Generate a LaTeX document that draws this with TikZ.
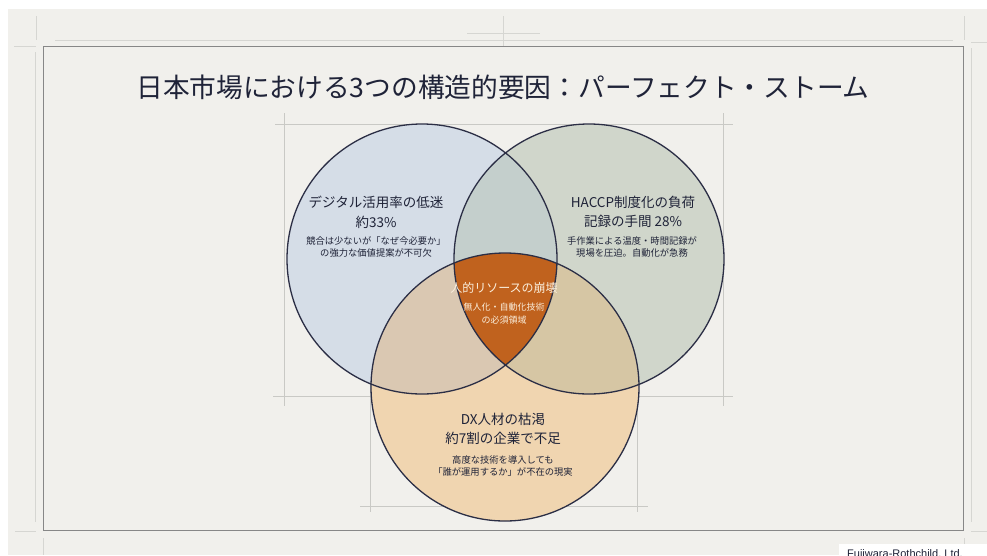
\documentclass[tikz,border=0pt]{standalone}
\usepackage{fontspec}
\setmainfont{Noto Sans CJK JP}
\newfontfamily\latinsans{Liberation Sans}
\definecolor{bgcol}{HTML}{F1F0EC}
\definecolor{guidecol}{HTML}{D6D6D2}
\definecolor{cguidecol}{HTML}{C9C9C5}
\definecolor{framecol}{HTML}{878787}
\definecolor{ringcol}{HTML}{2B2E45}
\definecolor{lcol}{HTML}{D5DDE7}
\definecolor{rcol}{HTML}{D0D6CB}
\definecolor{bcol}{HTML}{F0D5B0}
\definecolor{lrcol}{HTML}{C4CFCC}
\definecolor{lbcol}{HTML}{DAC8B2}
\definecolor{rbcol}{HTML}{D6C6A4}
\definecolor{tcol}{HTML}{C0621E}
\definecolor{txtcol}{HTML}{1F2338}
\definecolor{lighttxt}{HTML}{FAEEDC}
\begin{document}
\begin{tikzpicture}[x=1pt,y=-1pt,
  guide/.style={draw=guidecol, line width=0.9pt},
  cguide/.style={draw=cguidecol, line width=0.7pt},
  ring/.style={circle, draw=ringcol, line width=1.3pt, inner sep=0pt},
  mainlbl/.style={font=\fontsize{13.5}{17}\selectfont, text=txtcol, align=center, inner sep=0pt},
  sublbl/.style={font=\fontsize{9.3}{11.8}\selectfont, text=txtcol, align=center, inner sep=0pt},
]
\useasboundingbox (0,0) rectangle (987,555);
\fill[white] (0,0) rectangle (987,555);
\fill[bgcol] (8,9) rectangle (987,555);

% outer guide lines and crop marks
\draw[guide] (55,40) -- (953,40);
\draw[guide] (35,52) -- (35,522);
\draw[guide] (971,48) -- (971,522);
\draw[guide] (36,16) -- (36,40);
\draw[guide] (14,46) -- (36,46);
\draw[guide] (964,16) -- (964,40);
\draw[guide] (971,42) -- (987,42);
\draw[guide] (15,531) -- (36,531);
\draw[guide] (43,538) -- (43,555);
\draw[guide] (964,538) -- (964,555);
\draw[guide] (971,531) -- (987,531);
\draw[guide] (503,16) -- (503,46);
\draw[guide] (467,33) -- (540,33);

% frame
\draw[framecol, line width=1pt] (43,46) rectangle (963,530);

% title
\node[font=\fontsize{26.7}{30}\selectfont, text=txtcol] (title) at (503,87)
  {日本市場における3つの構造的要因：パーフェクト・ストーム};

% circle guides
\draw[cguide] (275,124) -- (733,124);
\draw[cguide] (273,396) -- (733,396);
\draw[cguide] (284,113) -- (284,406);
\draw[cguide] (723,113) -- (723,406);
\draw[cguide] (370,383) -- (370,512);
\draw[cguide] (637,383) -- (637,512);
\draw[cguide] (360,506) -- (648,506);

% circle fills
\coordinate (cL) at (422,259);
\coordinate (cR) at (589,259);
\coordinate (cB) at (505,387);
\fill[lcol] (cL) circle[radius=135];
\fill[rcol] (cR) circle[radius=135];
\fill[bcol] (cB) circle[radius=134];
\begin{scope}
  \clip (cL) circle[radius=135];
  \fill[lrcol] (cR) circle[radius=135];
  \fill[lbcol] (cB) circle[radius=134];
\end{scope}
\begin{scope}
  \clip (cR) circle[radius=135];
  \fill[rbcol] (cB) circle[radius=134];
  \clip (cL) circle[radius=135];
  \fill[tcol] (cB) circle[radius=134];
\end{scope}

% circle outlines
\node[ring, minimum size=270pt] (L) at (cL) {};
\node[ring, minimum size=270pt] (R) at (cR) {};
\node[ring, minimum size=268pt] (B) at (cB) {};

% left texts
\node[mainlbl] (l1) at (376,202) {デジタル活用率の低迷};
\node[mainlbl] (l2) at (376,222) {約33\%};
\node[sublbl] (l3) at (376,241) {競合は少ないが「なぜ今必要か」};
\node[sublbl] (l4) at (376,253) {の強力な価値提案が不可欠};

% right texts
\node[mainlbl] (r1) at (633,202) {HACCP制度化の負荷};
\node[mainlbl] (r2) at (633,221) {記録の手間 28\%};
\node[sublbl] (r3) at (632,241) {手作業による温度・時間記録が};
\node[sublbl] (r4) at (632,253) {現場を圧迫。自動化が急務};

% center texts
\node[mainlbl, text=lighttxt, font=\fontsize{12}{15}\selectfont] (c1) at (504,288) {人的リソースの崩壊};
\node[sublbl, text=lighttxt, font=\fontsize{9}{11.5}\selectfont] (c2) at (504,307) {無人化・自動化技術};
\node[sublbl, text=lighttxt, font=\fontsize{9}{11.5}\selectfont] (c3) at (504,320) {の必須領域};

% bottom texts
\node[mainlbl] (b1) at (503,419) {DX人材の枯渇};
\node[mainlbl] (b2) at (503,438) {約7割の企業で不足};
\node[sublbl] (b3) at (503,460) {高度な技術を導入しても};
\node[sublbl] (b4) at (503,472) {「誰が運用するか」が不在の現実};

% footer label (cut off at bottom, as in the reference)
\begin{scope}
  \clip (0,0) rectangle (987,555);
  \fill[white] (839,544) rectangle (987,560);
  \node[anchor=base west, inner sep=0pt, font=\latinsans\fontsize{11}{13}\selectfont, text=txtcol] (foot) at (847,557) {Fujiwara-Rothchild, Ltd.};
\end{scope}
\end{tikzpicture}
\end{document}
